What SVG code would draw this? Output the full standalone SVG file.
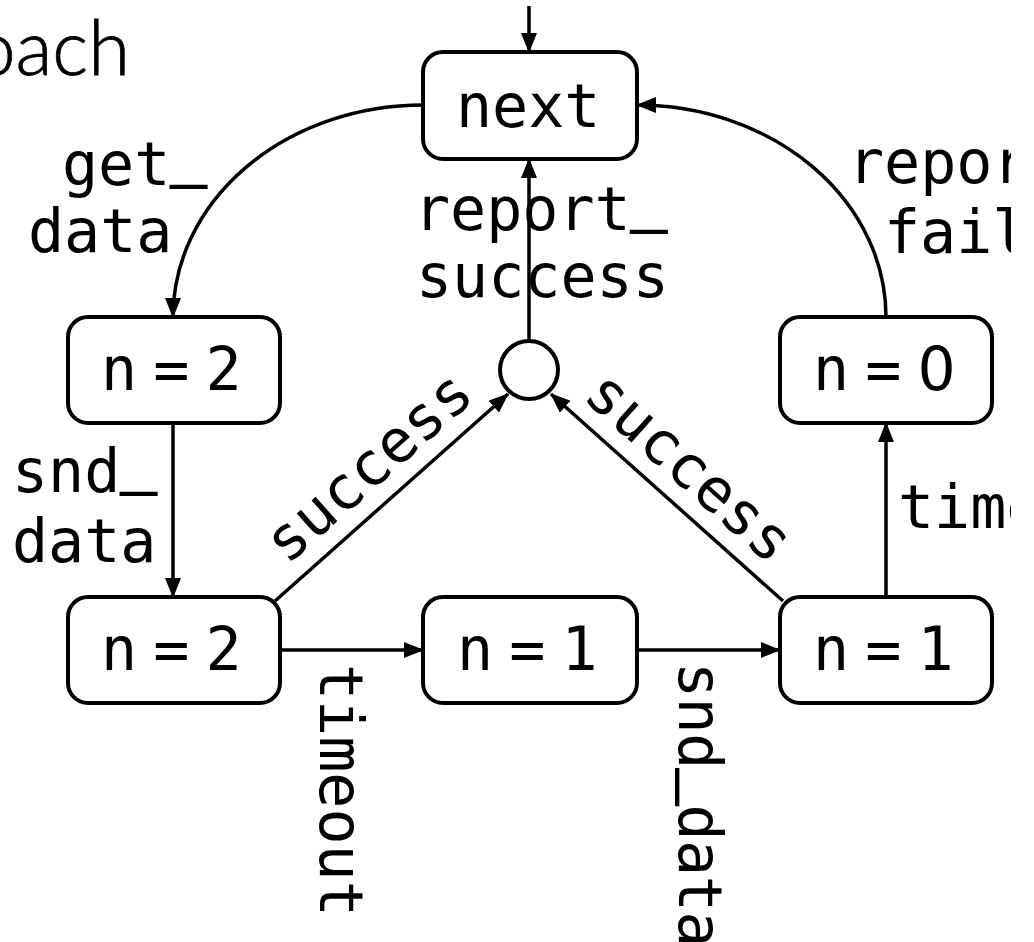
<svg xmlns="http://www.w3.org/2000/svg" width="1034" height="942" viewBox="0 0 1034 942">
  <style>
    .box { fill: #ffffff; stroke: #000000; stroke-width: 4; }
    .edge { fill: none; stroke: #000000; stroke-width: 3.5; }
    .state { font-family: "DejaVu Sans Mono", "Liberation Mono", monospace; font-size: 60px; fill: #000000; }
    .count { letter-spacing: -10px; }
    .digit { font-family: "DejaVu Sans", sans-serif; }
    .label { font-family: "DejaVu Sans Mono", "Liberation Mono", monospace; font-size: 60px; fill: #000000; }
    .us { stroke: #000000; stroke-width: 2; }
    .title { font-family: Lato, "Noto Sans", sans-serif; font-weight: 300; font-size: 76px; fill: #000000; }
  </style>
  <defs>
    <marker id="arrow" markerUnits="userSpaceOnUse" markerWidth="20" markerHeight="16" refX="19" refY="8" orient="auto">
      <path d="M0,0 L20,8 L0,16 Z" fill="#000000"/>
    </marker>
    <clipPath id="page">
      <rect x="0" y="0" width="1011" height="942"/>
    </clipPath>
  </defs>
  <rect width="1034" height="942" fill="#ffffff"/>

  <text class="title" x="130" y="75" text-anchor="end" stroke="#000000" stroke-width="0.8">Approach</text>

  <!-- transitions -->
  <g id="connectors">
    <path class="edge" d="M529,6 L529,52" marker-end="url(#arrow)"/>
    <path class="edge" d="M423,105 A250,212 0 0 0 173,317" marker-end="url(#arrow)"/>
    <path class="edge" d="M173,423 L173,597" marker-end="url(#arrow)"/>
    <path class="edge" d="M280,650 L423,650" marker-end="url(#arrow)"/>
    <path class="edge" d="M637,650 L780,650" marker-end="url(#arrow)"/>
    <path class="edge" d="M886,597 L886,423" marker-end="url(#arrow)"/>
    <path class="edge" d="M886,317 A249,212 0 0 0 637,105" marker-end="url(#arrow)"/>
    <path class="edge" d="M275,601 L508,394" marker-end="url(#arrow)"/>
    <path class="edge" d="M783,601 L551,394" marker-end="url(#arrow)"/>
    <path class="edge" d="M529,341 L529,159" marker-end="url(#arrow)"/>
  </g>

  <!-- edge labels (underscores sit on the baseline) -->
  <g id="labels">
    <text class="label" x="62" y="185">get<tspan class="us" dy="-11">_</tspan></text>
    <text class="label" x="28" y="252">data</text>
    <text class="label" x="12" y="492">snd<tspan class="us" dy="-11">_</tspan></text>
    <text class="label" x="12" y="562">data</text>
    <text class="label" x="414" y="230">report<tspan class="us" dy="-11">_</tspan></text>
    <text class="label" x="416" y="297">success</text>
    <g clip-path="url(#page)">
      <text class="label" x="848" y="183">report<tspan class="us" dy="-11">_</tspan></text>
      <text class="label" x="884" y="253">failure</text>
      <text class="label" x="898" y="528">timeout</text>
    </g>
    <text class="label" text-anchor="middle" transform="translate(382,482) rotate(-41.5)">success</text>
    <text class="label" text-anchor="middle" transform="translate(676,482) rotate(41.7)">success</text>
    <text class="label" transform="translate(320,664) rotate(90)">timeout</text>
    <text class="label" transform="translate(679,662) rotate(90)" letter-spacing="-0.5">snd<tspan class="us" dy="-11">_</tspan><tspan dy="11">data</tspan></text>
  </g>

  <g id="node-next">
    <rect class="box" x="423" y="52" width="214" height="107" rx="20"/>
    <text class="state" x="456" y="127">next</text>
  </g>
  <g id="node-n2-get">
    <rect class="box" x="68" y="317" width="212" height="106" rx="20"/>
    <text class="state count" x="101" y="390">n = 2</text>
  </g>
  <g id="node-n2-sent">
    <rect class="box" x="68" y="597" width="212" height="106" rx="20"/>
    <text class="state count" x="101" y="670">n = 2</text>
  </g>
  <g id="node-n1-wait">
    <rect class="box" x="423" y="597" width="214" height="106" rx="20"/>
    <text class="state count" x="457" y="670">n = 1</text>
  </g>
  <g id="node-n1-sent">
    <rect class="box" x="780" y="597" width="212" height="106" rx="20"/>
    <text class="state count" x="813" y="670">n = 1</text>
  </g>
  <g id="node-n0">
    <rect class="box" x="780" y="317" width="212" height="106" rx="20"/>
    <text class="state count" x="813" y="390">n = <tspan class="digit">0</tspan></text>
  </g>
  <g id="node-join">
    <circle class="box" cx="529" cy="370" r="29"/>
  </g>
</svg>
